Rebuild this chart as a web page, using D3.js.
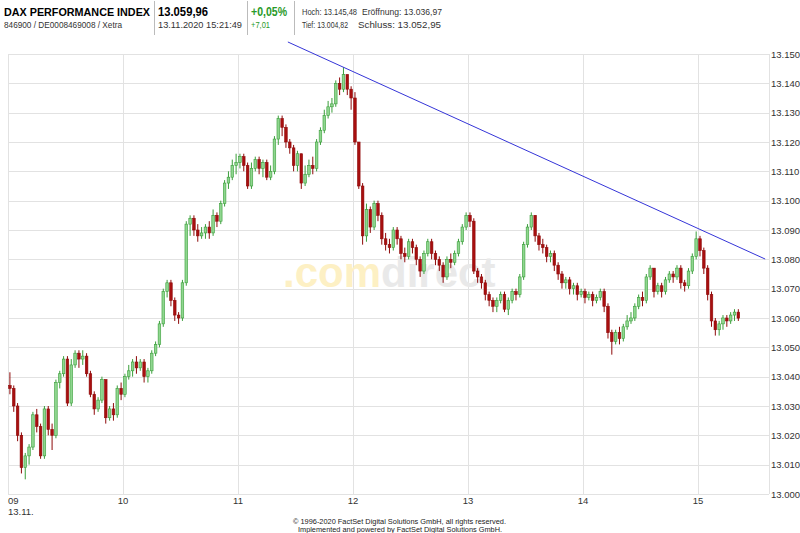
<!DOCTYPE html>
<html><head><meta charset="utf-8">
<script src="https://cdn.jsdelivr.net/npm/d3@7"></script>
<style>body{margin:0;background:#fff}svg{display:block;font-family:Arial,'Liberation Sans',sans-serif}</style>
</head><body><svg id="c" width="800" height="533"></svg>
<script>
// ---- data ----
const sessionStart = "2020-11-13T09:00";
const candleMinutes = 2;
const opens = [13037,13036,13030,13020,13009,13013,13016,13027,13023,13013,13029,13022,13020,13038,13041,13046,13031,13044,13048,13046,
13047,13041,13034,13029,13032,13039,13026,13029,13027,13036,13034,13040,13042,13045,13043,13045,13040,13042,13048,13051,
13058,13069,13072,13066,13061,13060,13072,13092,13094,13090,13088,13089,13091,13089,13095,13093,13099,13106,13108,13112,
13113,13115,13112,13105,13111,13114,13111,13113,13108,13110,13121,13128,13125,13120,13118,13112,13116,13106,13109,13112,
13111,13120,13124,13129,13132,13133,13140,13138,13143,13138,13135,13120,13105,13088,13097,13091,13099,13095,13087,13085,
13084,13090,13087,13082,13081,13086,13084,13080,13076,13082,13086,13082,13080,13078,13074,13080,13079,13082,13086,13091,
13095,13093,13076,13074,13072,13068,13066,13064,13066,13068,13063,13066,13069,13068,13074,13085,13091,13095,13088,13085,
13084,13081,13082,13078,13075,13072,13073,13070,13071,13068,13069,13067,13068,13066,13067,13069,13064,13055,13052,13055,
13053,13057,13059,13060,13064,13067,13066,13074,13077,13069,13071,13069,13073,13075,13074,13077,13072,13071,13076,13081,
13087,13083,13077,13068,13059,13056,13058,13060,13059,13061,13062];
const highs = [13041.5,13037,13031,13021,13014,13017,13028,13029,13024,13030,13030,13024,13039,13042,13047,13047,13046,13049,13049,13049,
13048,13042,13035,13033,13040,13039,13030,13031,13037,13038,13041,13044,13046,13047,13046,13046,13043,13049,13052,13059,
13070,13073,13073,13067,13062,13073,13093,13095,13095,13092,13091,13092,13093,13097,13096,13100,13107,13110,13114,13116,
13116,13116,13113,13113,13115,13115,13114,13114,13112,13122,13129,13129,13126,13121,13119,13117,13116,13112,13114,13115,
13121,13125,13131,13134,13135,13141,13142,13145.5,13143,13139,13137,13120,13106,13099,13098,13100,13100,13096,13089,13087,
13091,13091,13088,13084,13087,13087,13085,13081,13083,13087,13087,13083,13081,13079,13081,13082,13083,13087,13092,13096,
13096,13094,13077,13075,13073,13069,13067,13067,13069,13069,13067,13070,13070,13075,13086,13092,13096,13095,13089,13087,
13085,13083,13083,13079,13076,13074,13074,13072,13072,13070,13070,13069,13069,13068,13070,13070,13065,13056,13056,13057,
13058,13061,13062,13065,13068,13069,13075,13078,13077,13072,13072,13074,13076,13076,13078,13078,13073,13077,13082,13089.5,
13088,13084,13078,13069,13060,13059,13061,13061,13062,13063,13063];
const lows = [13034,13028,13018,13007,13005,13010,13015,13021,13012,13012,13020,13015,13019,13036,13040,13030,13030,13043,13043,13044,
13040,13033,13027,13028,13031,13024,13025,13025,13026,13032,13033,13039,13040,13041,13042,13038,13038,13041,13047,13050,
13057,13067,13064,13059,13058,13059,13071,13088,13088,13086,13087,13087,13087,13088,13091,13092,13098,13104,13107,13109,
13111,13110,13104,13104,13110,13109,13108,13107,13107,13109,13119,13122,13118,13116,13110,13110,13104,13105,13108,13109,
13110,13119,13123,13128,13130,13132,13136,13137,13136,13131,13119,13104,13085,13086,13089,13090,13093,13085,13083,13082,
13083,13085,13080,13079,13080,13082,13078,13074,13075,13081,13080,13078,13076,13072,13073,13077,13078,13081,13085,13090,
13091,13075,13072,13070,13066,13064,13062,13062,13065,13062,13061,13065,13066,13067,13073,13084,13090,13086,13083,13082,
13079,13079,13076,13073,13070,13070,13068,13068,13066,13067,13065,13066,13064,13065,13066,13062,13053,13047.5,13051,13051,
13052,13056,13058,13059,13063,13064,13065,13073,13067,13068,13067,13068,13072,13072,13073,13070,13069,13070,13075,13080,
13081,13075,13066,13057,13054,13054,13056,13057,13058,13059,13059];
const closes = [13036,13030,13020,13009,13013,13016,13027,13023,13013,13029,13022,13020,13038,13041,13046,13031,13044,13048,13046,13047,
13041,13034,13029,13032,13039,13026,13029,13027,13036,13034,13040,13042,13045,13043,13045,13040,13042,13048,13051,13058,
13069,13072,13066,13061,13060,13072,13092,13094,13090,13088,13089,13091,13089,13095,13093,13099,13106,13108,13112,13113,
13115,13112,13105,13111,13114,13111,13113,13108,13110,13121,13128,13125,13120,13118,13112,13116,13106,13109,13112,13111,
13120,13124,13129,13132,13133,13140,13138,13143,13138,13135,13120,13105,13088,13097,13091,13099,13095,13087,13085,13084,
13090,13087,13082,13081,13086,13084,13080,13076,13082,13086,13082,13080,13078,13074,13080,13079,13082,13086,13091,13095,
13093,13076,13074,13072,13068,13066,13064,13066,13068,13063,13066,13069,13068,13074,13085,13091,13095,13088,13085,13084,
13081,13082,13078,13075,13072,13073,13070,13071,13068,13069,13067,13068,13066,13067,13069,13064,13055,13052,13055,13053,
13057,13059,13060,13064,13067,13066,13074,13077,13069,13071,13069,13073,13075,13074,13077,13072,13071,13076,13081,13087,
13083,13077,13068,13059,13056,13058,13060,13059,13061,13062,13059.96];
const yTicks = [13000,13010,13020,13030,13040,13050,13060,13070,13080,13090,13100,13110,13120,13130,13140,13150];
const xTickHours = ["09","10","11","12","13","14","15"];
const trendTimes = ["2020-11-13T11:26","2020-11-13T15:35"];
const trendValues = [13154.1,13080.1];
const header = {
  name:"DAX PERFORMANCE INDEX", ids:"846900 / DE0008469008 / Xetra",
  last:"13.059,96", stamp:"13.11.2020 15:21:49", pct:"+0,05%", abs:"+7,01",
  hoch:"Hoch: 13.145,48", eroef:"Eröffnung: 13.036,97", tief:"Tief: 13.004,82", schluss:"Schluss: 13.052,95"
};

// ---- drawing ----
const svg = d3.select("#c");
const L = 8, R = 769, T = 54, B = 494;
const parse = d3.timeParse("%Y-%m-%dT%H:%M");
const t0 = parse(sessionStart);
const x = d3.scaleTime().domain([t0, d3.timeMinute.offset(t0, 397)]).range([L, R]);
const y = d3.scaleLinear().domain([13000, 13150]).range([B, T]);
const de = d3.formatLocale({decimal:",", thousands:".", grouping:[3], currency:["","€"]});
const fmt = de.format(",d");

// header
function ht(tx, ty, size, len, txt, fill, bold){
  svg.append("text").attr("x",tx).attr("y",ty).attr("font-size",size)
    .attr("font-weight", bold ? "bold" : "normal").attr("fill", fill)
    .attr("textLength", len).attr("lengthAdjust","spacingAndGlyphs").text(txt);
}
ht(4,16,11.5,146,header.name,"#000",true);
ht(4,28,9,118,header.ids,"#333",false);
ht(158,16,12.5,50,header.last,"#000",true);
ht(158,28,9,84,header.stamp,"#333",false);
ht(251,16,12,36,header.pct,"#2a9a2a",true);
ht(251,28,9,19,header.abs,"#2a9a2a",false);
ht(302,15,8.5,55,header.hoch,"#333",false);
ht(362,15,8.5,80,header.eroef,"#333",false);
ht(302,28,8.5,46,header.tief,"#333",false);
ht(358,28,8.5,83,header.schluss,"#333",false);
[154,247,294].forEach(sx => svg.append("line").attr("x1",sx+0.5).attr("x2",sx+0.5).attr("y1",1).attr("y2",35).attr("stroke","#bbb"));

// grid
const grid = svg.append("g");
grid.selectAll("line.h").data(yTicks).join("line")
  .attr("x1",L).attr("x2",R).attr("y1",d=>Math.round(y(d))+0.5).attr("y2",d=>Math.round(y(d))+0.5)
  .attr("stroke","#e2e2e2");
const hourTimes = xTickHours.map(h => parse("2020-11-13T"+h+":00"));
grid.selectAll("line.v").data(hourTimes).join("line")
  .attr("x1",d=>Math.round(x(d))+0.5).attr("x2",d=>Math.round(x(d))+0.5).attr("y1",T).attr("y2",B)
  .attr("stroke","#e2e2e2");
svg.append("line").attr("x1",R+0.5).attr("x2",R+0.5).attr("y1",T).attr("y2",B).attr("stroke","#e2e2e2");

// watermark
const wm = svg.append("text").attr("x",283).attr("y",287).attr("font-size",42).attr("font-weight","bold");
wm.append("tspan").attr("fill","#fdf0c4").text(".com");
wm.append("tspan").attr("fill","#e9e9e9").text("direct");

// y labels
svg.append("g").selectAll("text").data(yTicks).join("text")
  .attr("x",771).attr("y",d=>y(d)+3.5).attr("font-size",9.5).attr("fill","#333").text(d=>fmt(d));

// x labels
svg.append("g").selectAll("text").data(hourTimes).join("text")
  .attr("x",d=>x(d)).attr("y",504)
  .attr("text-anchor",(d,i)=> i===0 ? "start" : "middle")
  .attr("font-size",9.5).attr("fill","#333").text((d,i)=>xTickHours[i]);
svg.append("text").attr("x",8).attr("y",515).attr("font-size",9.5).attr("fill","#333").text("13.11.");

// candles
const candles = closes.map((c,i)=>({t:d3.timeMinute.offset(t0, i*candleMinutes), o:opens[i], h:highs[i], l:lows[i], c}));
const bw = 2.6;
const cg = svg.append("g");
const cx = d => x(d3.timeMinute.offset(d.t, candleMinutes/2));
cg.selectAll("line").data(candles).join("line")
  .attr("x1",cx).attr("x2",cx).attr("y1",d=>y(d.h)).attr("y2",d=>y(d.l))
  .attr("stroke",d=>d.c>=d.o ? "#3a9e3a" : "#8e0a0a").attr("stroke-width",1);
cg.selectAll("rect").data(candles).join("rect")
  .attr("x",d=>cx(d)-bw/2).attr("width",bw)
  .attr("y",d=>y(Math.max(d.o,d.c))).attr("height",d=>Math.max(1,Math.abs(y(d.o)-y(d.c))))
  .attr("fill",d=>d.c>=d.o ? "#8fd68f" : "#a80f0f")
  .attr("stroke",d=>d.c>=d.o ? "#3a9e3a" : "#8e0a0a").attr("stroke-width",0.6);

// trend line
const tl = trendTimes.map((s,i)=>[x(parse(s)), y(trendValues[i])]);
svg.append("path").attr("d", d3.line()(tl)).attr("stroke","#3535d8").attr("stroke-width",1).attr("fill","none");

// footer
svg.append("text").attr("x",293).attr("y",524).attr("font-size",8).attr("fill","#222")
  .attr("textLength",213).attr("lengthAdjust","spacingAndGlyphs")
  .text("© 1996-2020 FactSet Digital Solutions GmbH, all rights reserved.");
svg.append("text").attr("x",298).attr("y",532).attr("font-size",8).attr("fill","#222")
  .attr("textLength",204).attr("lengthAdjust","spacingAndGlyphs")
  .text("Implemented and powered by FactSet Digital Solutions GmbH.");
</script></body></html>
